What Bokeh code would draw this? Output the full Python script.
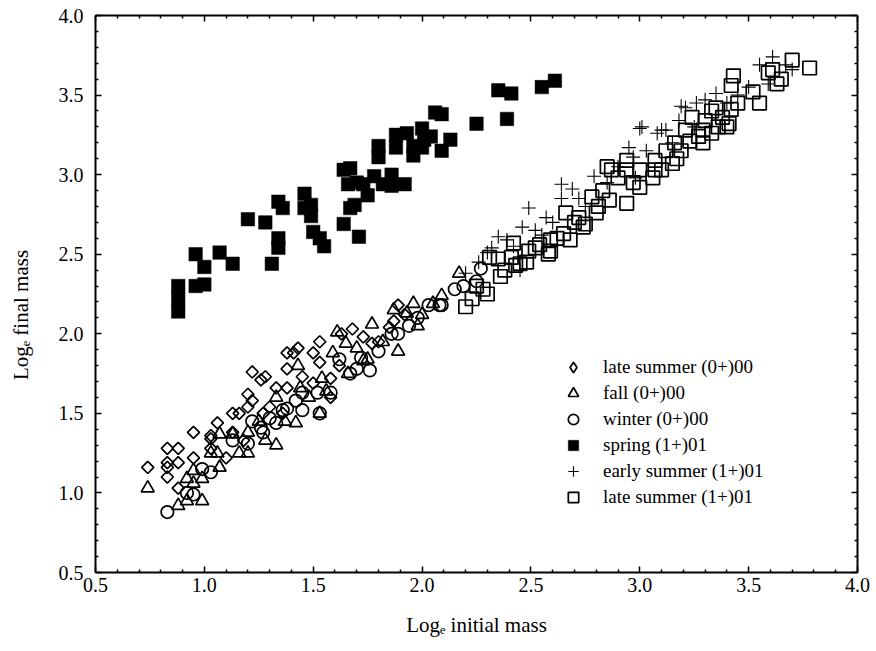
import math
from bokeh.plotting import figure
from bokeh.models import Range1d, FixedTicker, LinearAxis, Legend, LegendItem, PrintfTickFormatter
from bokeh.embed import file_html
from bokeh.resources import INLINE

FONT = "Liberation Serif"

# ---- axis ticks and titles ----
major_ticks = [0.5, 1.0, 1.5, 2.0, 2.5, 3.0, 3.5, 4.0]
minor_ticks = [0.6, 0.7, 0.8, 0.9, 1.1, 1.2, 1.3, 1.4, 1.6, 1.7, 1.8, 1.9,
               2.1, 2.2, 2.3, 2.4, 2.6, 2.7, 2.8, 2.9, 3.1, 3.2, 3.3, 3.4,
               3.6, 3.7, 3.8, 3.9]
x_title = "Log\u2091 initial mass"
y_title = "Log\u2091 final mass"
y_title_pad = "\u00a0" * 8   # keeps the vertical title a little below the frame centre, as in the original

# ---- data: (log initial mass, log final mass) ----
late_summer_00 = [(0.74,1.16),(0.83,1.28),(0.88,1.28),(0.83,1.19),(0.83,1.16),(0.88,1.19),(0.83,1.10),
    (0.88,1.03),(0.95,1.22),(0.95,1.38),(1.03,1.36),(1.03,1.34),(1.06,1.44),(1.10,1.22),(1.13,1.50),
    (1.16,1.50),(1.20,1.54),(1.20,1.62),(1.22,1.58),(1.22,1.76),(1.26,1.71),(1.28,1.73),(1.33,1.66),
    (1.38,1.78),(1.38,1.88),(1.41,1.88),(1.43,1.91),(1.50,1.88),(1.53,1.95),(1.53,1.82),(1.68,2.03),
    (1.63,2.00),(1.89,2.18),(1.87,2.08),(1.30,1.54),(1.27,1.50),(1.13,1.38),(1.03,1.28),(1.38,1.66),
    (1.50,1.69),(1.58,1.72),(1.73,1.98),(1.77,1.94),(1.85,2.04),(1.45,1.73),(1.62,1.80),(1.80,1.95),
    (1.92,2.12),(1.58,1.60),(1.36,1.50),(1.18,1.33)]

fall_00 = [(0.74,1.03),(0.88,0.92),(0.92,0.95),(0.92,1.09),(0.95,1.06),(0.95,1.14),(0.99,0.95),
    (0.99,1.09),(1.03,1.25),(1.06,1.25),(1.07,1.16),(1.07,1.37),(1.16,1.25),(1.20,1.25),(1.13,1.37),
    (1.28,1.33),(1.33,1.30),(1.42,1.44),(1.33,1.60),(1.43,1.80),(1.44,1.66),(1.53,1.50),(1.54,1.72),
    (1.59,1.88),(1.61,2.01),(1.56,1.64),(1.77,2.06),(1.75,1.84),(1.89,1.89),(1.98,2.05),(1.96,2.19),
    (1.93,2.13),(1.87,2.15),(2.05,2.19),(1.65,1.94),(1.70,1.91),(1.73,1.83),(2.17,2.38),(2.09,2.24),
    (1.25,1.45),(1.37,1.45),(1.48,1.60),(1.66,1.75),(1.82,1.95),(2.00,2.12),(1.20,1.38)]

winter_00 = [(0.83,0.88),(0.92,1.00),(0.95,0.99),(0.99,1.15),(1.03,1.13),(1.13,1.33),(1.20,1.31),
    (1.22,1.45),(1.26,1.41),(1.33,1.44),(1.38,1.53),(1.45,1.52),(1.53,1.50),(1.45,1.63),(1.52,1.63),
    (1.58,1.63),(1.67,1.75),(1.70,1.78),(1.76,1.77),(1.80,1.89),(1.86,2.00),(1.89,2.00),(2.03,2.18),
    (2.08,2.18),(1.94,2.05),(1.62,1.84),(1.27,1.38),(1.36,1.52),(2.27,2.41),(2.15,2.28),(2.19,2.30),
    (2.25,2.33),(2.09,2.18),(1.42,1.58),(1.30,1.47),(1.72,1.85),(1.98,2.10)]

spring_01 = [(0.88,2.30),(0.88,2.22),(0.88,2.14),(0.96,2.30),(1.00,2.31),(0.96,2.50),(1.00,2.42),
    (1.07,2.51),(1.13,2.44),(1.20,2.72),(1.28,2.70),(1.34,2.83),(1.36,2.79),(1.34,2.60),(1.34,2.54),
    (1.31,2.44),(1.46,2.88),(1.46,2.79),(1.49,2.81),(1.49,2.74),(1.50,2.64),(1.53,2.60),(1.55,2.55),
    (1.64,2.69),(1.71,2.61),(1.67,2.79),(1.69,2.81),(1.64,3.03),(1.67,3.04),(1.66,2.94),(1.70,2.95),
    (1.73,2.94),(1.75,2.87),(1.78,2.99),(1.82,2.94),(1.86,3.00),(1.86,2.93),(1.92,2.94),(1.80,3.18),
    (1.80,3.11),(1.88,3.25),(1.88,3.17),(1.93,3.26),(1.96,3.18),(2.00,3.29),(2.01,3.22),(2.04,3.24),
    (2.00,3.17),(1.96,3.12),(2.09,3.15),(2.13,3.22),(2.06,3.39),(2.09,3.38),(2.25,3.32),(2.35,3.53),
    (2.41,3.51),(2.39,3.35),(2.55,3.55),(2.61,3.59)]

early_summer_01 = [(2.32,2.54),(2.35,2.61),(2.39,2.59),(2.46,2.67),(2.49,2.79),(2.52,2.65),(2.57,2.73),
    (2.64,2.94),(2.69,2.91),(2.64,2.85),(2.79,2.99),(2.95,3.17),(3.00,3.29),(3.01,3.30),(3.08,3.26),
    (3.10,3.28),(3.18,3.34),(3.19,3.43),(3.21,3.42),(3.26,3.45),(3.35,3.51),(3.55,3.69),(3.61,3.74),
    (3.70,3.66),(2.30,2.51),(2.45,2.40),(2.97,3.11),(3.03,3.15),(3.12,3.28),(3.30,3.47),(3.59,3.57),
    (2.98,2.98),(3.67,3.69),(2.20,2.38),(2.26,2.45),(2.42,2.55),(2.55,2.62),(2.60,2.70),(2.72,2.85),
    (2.75,2.80),(2.85,2.95),(2.90,3.05),(3.15,3.20),(3.25,3.30),(3.40,3.45),(3.45,3.50),(3.50,3.55)]

late_summer_01 = [(2.20,2.17),(2.23,2.22),(2.30,2.25),(2.36,2.36),(2.35,2.47),(2.42,2.57),(2.45,2.44),
    (2.52,2.54),(2.59,2.52),(2.59,2.59),(2.65,2.63),(2.68,2.59),(2.66,2.76),(2.72,2.73),(2.75,2.69),
    (2.78,2.86),(2.80,2.76),(2.86,2.84),(2.94,2.82),(2.87,3.03),(2.94,3.03),(3.00,2.92),(3.06,2.98),
    (3.07,3.03),(3.15,3.07),(3.16,3.20),(3.19,3.15),(3.17,3.10),(3.23,3.21),(3.29,3.20),(3.29,3.28),
    (3.33,3.26),(3.33,3.40),(3.38,3.36),(3.41,3.32),(3.42,3.41),(3.45,3.45),(3.43,3.62),(3.42,3.56),
    (3.52,3.52),(3.55,3.45),(3.61,3.66),(3.63,3.57),(3.65,3.60),(3.70,3.72),(3.78,3.67),(3.59,3.64),
    (3.40,3.30),(3.27,3.24),(3.10,3.03),(2.94,3.09),(2.90,2.98),(2.81,2.80),(2.74,2.67),(2.58,2.50),
    (2.54,2.56),(2.49,2.52),(2.43,2.43),(2.41,2.48),(2.31,2.48),(2.28,2.28),(2.85,3.05),(3.00,3.03),
    (3.07,3.09),(3.21,3.28),(3.24,3.36),(3.30,3.34),(3.35,3.42),(2.25,2.30),(2.38,2.40),(2.48,2.45),
    (2.62,2.60),(2.70,2.70),(2.83,2.90),(2.97,2.95),(3.12,3.15),(3.36,3.30)]

series_labels = ["late summer (0+)00", "fall (0+)00", "winter (0+)00",
                 "spring (1+)01", "early summer (1+)01", "late summer (1+)01"]


def xs(pts):
    return [p[0] for p in pts]


def ys(pts):
    return [p[1] for p in pts]


p = figure(width=876, height=651, x_range=Range1d(0.5, 4.0), y_range=Range1d(0.5, 4.0),
           output_backend="svg", toolbar_location=None,
           min_border_left=95, min_border_right=19, min_border_top=15, min_border_bottom=79)
p.grid.visible = False
p.outline_line_color = None
p.background_fill_color = "white"
p.border_fill_color = "white"

top_axis = LinearAxis()
right_axis = LinearAxis()
p.add_layout(top_axis, "above")
p.add_layout(right_axis, "right")


def style_axis(ax, labels):
    ax.ticker = FixedTicker(ticks=major_ticks, minor_ticks=minor_ticks)
    ax.formatter = PrintfTickFormatter(format="%.1f")
    ax.axis_line_color = "black"
    ax.axis_line_width = 2
    ax.major_tick_in = 6
    ax.major_tick_out = 0
    ax.minor_tick_in = 3
    ax.minor_tick_out = 0
    ax.major_tick_line_color = "black"
    ax.minor_tick_line_color = "black"
    ax.major_tick_line_width = 1.5
    ax.minor_tick_line_width = 1.5
    ax.major_label_text_font = FONT
    if labels:
        ax.major_label_text_font_size = "20px"
        ax.major_label_text_color = "black"
    else:
        ax.major_label_text_font_size = "0px"
        ax.major_label_text_color = None
        ax.major_label_standoff = 0


for ax in p.xaxis:
    style_axis(ax, ax is not top_axis)
for ax in p.yaxis:
    style_axis(ax, ax is not right_axis)
p.below[0].major_label_standoff = 5
p.left[0].major_label_standoff = 12

# x title on the bottom axis
xa = p.below[0]
xa.axis_label = x_title
xa.axis_label_text_font = FONT
xa.axis_label_text_font_style = "normal"
xa.axis_label_text_font_size = "21px"
xa.axis_label_text_color = "black"
xa.axis_label_standoff = 18

# y title on a bare extra axis
ya = LinearAxis(ticker=FixedTicker(ticks=[]), axis_label=y_title + y_title_pad,
                axis_line_color=None, major_tick_line_color=None, minor_tick_line_color=None,
                major_label_text_color=None, major_label_text_font_size="0px",
                major_label_standoff=0, major_tick_in=0, major_tick_out=0,
                minor_tick_in=0, minor_tick_out=0,
                axis_label_text_font=FONT, axis_label_text_font_style="normal",
                axis_label_text_font_size="21px", axis_label_text_color="black",
                axis_label_standoff=23)
p.add_layout(ya, "left")

LW = 1.7
r_diam = p.scatter(xs(late_summer_00), ys(late_summer_00), marker="square", size=8.5, angle=math.pi / 4,
                   fill_color=None, line_color="black", line_width=LW)
# same data drawn as a diamond glyph, only used for the legend entry
r_diam_leg = p.scatter(xs(late_summer_00), ys(late_summer_00), marker="diamond", size=12,
                       fill_color=None, line_color="black", line_width=LW, visible=False)
r_tri = p.scatter(xs(fall_00), ys(fall_00), marker="triangle", size=13,
                  fill_color=None, line_color="black", line_width=LW)
r_circ = p.scatter(xs(winter_00), ys(winter_00), marker="circle", size=12.5,
                   fill_color=None, line_color="black", line_width=LW)
r_spring = p.scatter(xs(spring_01), ys(spring_01), marker="square", size=13.5,
                     fill_color="black", line_color="black", line_width=0.5)
r_sq = p.scatter(xs(late_summer_01), ys(late_summer_01), marker="square", size=13.5,
                 fill_color=None, line_color="black", line_width=LW)
r_cross = p.scatter(xs(early_summer_01), ys(early_summer_01), marker="cross", size=14,
                    fill_color=None, line_color="black", line_width=1.1)

legend = Legend(items=[
    LegendItem(label=series_labels[0], renderers=[r_diam_leg]),
    LegendItem(label=series_labels[1], renderers=[r_tri]),
    LegendItem(label=series_labels[2], renderers=[r_circ]),
    LegendItem(label=series_labels[3], renderers=[r_spring]),
    LegendItem(label=series_labels[4], renderers=[r_cross]),
    LegendItem(label=series_labels[5], renderers=[r_sq]),
], location=(462, 62), orientation="vertical",
    glyph_width=32, glyph_height=26, label_height=26, label_standoff=14, spacing=0,
    padding=0, margin=0, label_text_font=FONT, label_text_font_size="19px",
    label_text_color="black", border_line_color=None, background_fill_alpha=0,
    inactive_fill_alpha=0)
p.add_layout(legend)

open("out.html", "w").write(file_html(p, INLINE))
